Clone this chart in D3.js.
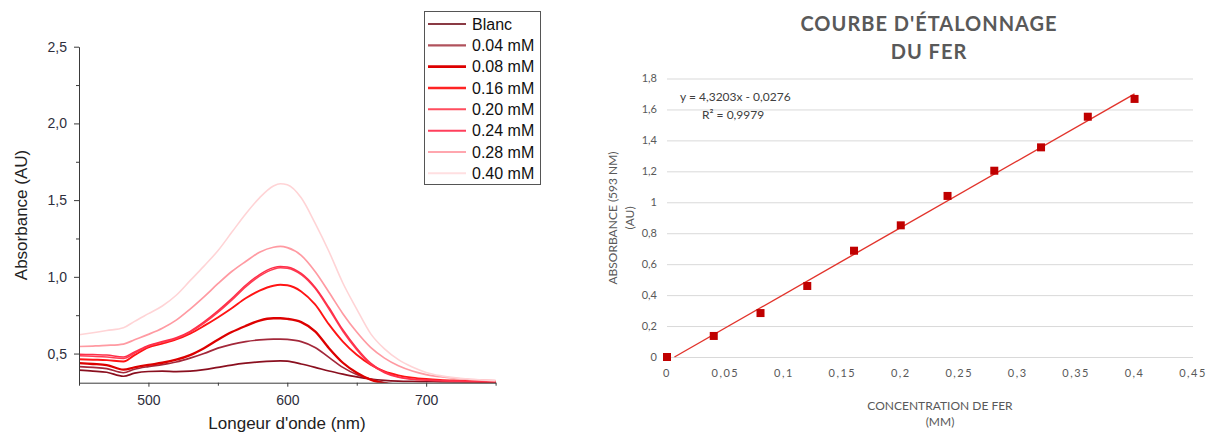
<!DOCTYPE html>
<html>
<head>
<meta charset="utf-8">
<script src="https://cdn.jsdelivr.net/npm/d3@7"></script>
<style>
  html, body { margin: 0; padding: 0; background: #ffffff; }
  svg { display: block; }
</style>
</head>
<body>
<svg id="chart" width="1208" height="434"></svg>
<script>
// ---------- LEFT CHART DATA : absorption spectra ----------
const wavelengths = [450,460,470,482,490,500,510,520,530,540,550,560,570,580,590,595,600,610,620,630,640,650,660,670,680,690,700,710,720,730,740,750];
const specBlanc = [0.392,0.386,0.378,0.352,0.372,0.383,0.385,0.382,0.385,0.395,0.41,0.425,0.437,0.446,0.451,0.452,0.45,0.432,0.41,0.386,0.366,0.348,0.334,0.325,0.32,0.318,0.317,0.316,0.315,0.315,0.314,0.314];
const spec004  = [0.415,0.41,0.402,0.375,0.398,0.415,0.428,0.445,0.47,0.5,0.535,0.56,0.578,0.589,0.594,0.594,0.592,0.578,0.54,0.475,0.41,0.363,0.333,0.31,0.3,0.298,0.3,0.303,0.305,0.306,0.307,0.308];
const spec008  = [0.437,0.432,0.425,0.395,0.41,0.426,0.44,0.46,0.49,0.535,0.59,0.64,0.68,0.715,0.73,0.73,0.726,0.705,0.645,0.535,0.44,0.375,0.33,0.305,0.295,0.293,0.295,0.298,0.3,0.302,0.303,0.304];
const spec016  = [0.463,0.46,0.457,0.448,0.49,0.54,0.565,0.592,0.63,0.68,0.735,0.795,0.86,0.91,0.942,0.948,0.945,0.905,0.82,0.69,0.578,0.492,0.428,0.383,0.358,0.343,0.334,0.328,0.324,0.321,0.319,0.318];
const spec020  = [0.485,0.482,0.478,0.468,0.502,0.548,0.573,0.598,0.638,0.698,0.768,0.848,0.935,1.005,1.05,1.06,1.056,1.015,0.925,0.79,0.645,0.525,0.43,0.375,0.345,0.332,0.326,0.322,0.32,0.318,0.317,0.316];
const spec024  = [0.496,0.493,0.49,0.478,0.51,0.552,0.578,0.603,0.645,0.706,0.778,0.858,0.945,1.015,1.06,1.068,1.064,1.022,0.932,0.8,0.655,0.535,0.438,0.38,0.348,0.334,0.328,0.324,0.321,0.319,0.318,0.317];
const spec028  = [0.546,0.549,0.553,0.562,0.59,0.625,0.665,0.718,0.79,0.87,0.955,1.035,1.1,1.16,1.193,1.198,1.19,1.14,1.035,0.9,0.76,0.64,0.54,0.47,0.42,0.386,0.363,0.349,0.339,0.332,0.327,0.323];
const spec040  = [0.622,0.636,0.65,0.668,0.71,0.76,0.81,0.88,0.975,1.07,1.17,1.29,1.41,1.515,1.592,1.607,1.6,1.515,1.35,1.165,0.96,0.79,0.63,0.53,0.46,0.412,0.377,0.356,0.343,0.334,0.328,0.323];
const specLabels = ["Blanc","0.04 mM","0.08 mM","0.16 mM","0.20 mM","0.24 mM","0.28 mM","0.40 mM"];
const leftYTickValues = [0.5,1.0,1.5,2.0,2.5];
const leftYTickLabels = ["0,5","1,0","1,5","2,0","2,5"];
const leftYMinorTicks = [0.75,1.25,1.75,2.25];
const leftXTickValues = [500,600,700];
const leftXTickLabels = ["500","600","700"];
const leftXMinorTicks = [450,550,650,750];

// ---------- RIGHT CHART DATA : calibration curve ----------
const concentrations = [0,0.04,0.08,0.12,0.16,0.20,0.24,0.28,0.32,0.36,0.40];
const absorbances    = [0,0.136,0.284,0.459,0.687,0.851,1.041,1.204,1.355,1.553,1.668];
const fitSlope = 4.3203;
const fitIntercept = -0.0276;
const fitR2Label = "R² = 0,9979";
const fitEqLabel = "y = 4,3203x - 0,0276";
const rightYTickValues = [0,0.2,0.4,0.6,0.8,1.0,1.2,1.4,1.6,1.8];
const rightYTickLabels = ["0","0,2","0,4","0,6","0,8","1","1,2","1,4","1,6","1,8"];
const rightXTickValues = [0,0.05,0.1,0.15,0.2,0.25,0.3,0.35,0.4,0.45];
const rightXTickLabels = ["0","0,05","0,1","0,15","0,2","0,25","0,3","0,35","0,4","0,45"];

// ---------- styles ----------
const seriesData = [specBlanc, spec004, spec008, spec016, spec020, spec024, spec028, spec040];
const seriesColors = ["#8a0f1f","#a3283a","#dd0000","#ff1414","#ff3d52","#ff2f4a","#ff9aa2","#ffd4d6"];
const seriesWidths = [1.7, 1.7, 2.3, 1.9, 1.5, 1.5, 1.7, 1.6];
const legendColors = ["#8a3a44","#b0525c","#dd0000","#ff2424","#ff4d5e","#ff3f5c","#ffa6ae","#ffdfe1"];

const svg = d3.select("#chart");
const leftFont = "'Liberation Sans', Arial, sans-serif";
const rightFont = "Lato, 'Open Sans', sans-serif";

// ================= LEFT CHART =================
const xL = d3.scaleLinear().domain([450, 750]).range([79, 495.6]);
const yL = d3.scaleLinear().domain([0.31, 2.5]).range([382.7, 46.7]);

svg.append("clipPath").attr("id", "clipL")
  .append("rect").attr("x", 79).attr("y", 40).attr("width", 417).attr("height", 342.7);

const lineL = d3.line().x((d, i) => xL(wavelengths[i])).y(d => yL(d)).curve(d3.curveMonotoneX);
const gLines = svg.append("g").attr("clip-path", "url(#clipL)");
seriesData.forEach((s, k) => {
  gLines.append("path").datum(s)
    .attr("d", lineL)
    .attr("fill", "none")
    .attr("stroke", seriesColors[k])
    .attr("stroke-width", seriesWidths[k])
    .attr("stroke-linejoin", "round");
});

const axisColor = "#3a3a3a";
const tickTextColor = "#2e2e3c";
// y axis
const gYL = svg.append("g").attr("transform", "translate(79,0)")
  .call(d3.axisLeft(yL).tickValues(leftYTickValues).tickSize(5).tickSizeOuter(0)
        .tickFormat((d, i) => leftYTickLabels[i]));
svg.append("g").attr("transform", "translate(79,0)")
  .call(d3.axisLeft(yL).tickValues(leftYMinorTicks).tickSize(3).tickSizeOuter(0).tickFormat(""))
  .select(".domain").remove();
// x axis
const gXL = svg.append("g").attr("transform", "translate(0,382.7)")
  .call(d3.axisBottom(xL).tickValues(leftXTickValues).tickSize(4).tickSizeOuter(0)
        .tickFormat((d, i) => leftXTickLabels[i]));
svg.append("g").attr("transform", "translate(0,382.7)")
  .call(d3.axisBottom(xL).tickValues(leftXMinorTicks).tickSize(3).tickSizeOuter(0).tickFormat(""))
  .select(".domain").remove();

svg.selectAll(".domain").attr("stroke", axisColor);
[gYL, gXL].forEach(g => {
  g.selectAll("text").attr("font-family", leftFont).attr("font-size", 14).attr("fill", tickTextColor);
});
svg.selectAll(".tick line").attr("stroke", axisColor);
gYL.selectAll("text").attr("x", -12);
gXL.selectAll("text").attr("y", 12);

svg.append("text").attr("x", 287).attr("y", 429).attr("text-anchor", "middle")
  .attr("font-family", leftFont).attr("font-size", 17).attr("fill", "#222")
  .text("Longeur d'onde (nm)");
svg.append("text").attr("transform", "translate(27,215) rotate(-90)").attr("text-anchor", "middle")
  .attr("font-family", leftFont).attr("font-size", 17).attr("fill", "#222")
  .text("Absorbance (AU)");

// legend
const leg = svg.append("g");
leg.append("rect").attr("x", 424.5).attr("y", 11.5).attr("width", 116).attr("height", 173)
  .attr("fill", "#fff").attr("stroke", "#555").attr("stroke-width", 1);
specLabels.forEach((lab, k) => {
  const yy = 24 + k * 21.33;
  leg.append("line").attr("x1", 428).attr("x2", 466).attr("y1", yy).attr("y2", yy)
    .attr("stroke", legendColors[k]).attr("stroke-width", seriesWidths[k] + 0.5);
  leg.append("text").attr("x", 472).attr("y", yy).attr("dy", "0.36em")
    .attr("font-family", leftFont).attr("font-size", 16).attr("fill", "#111").text(lab);
});

// ================= RIGHT CHART =================
const xR = d3.scaleLinear().domain([0, 0.45]).range([667, 1193]);
const yR = d3.scaleLinear().domain([0, 1.8]).range([357, 78.5]);
const gridColor = "#d9d9d9";
const rTextColor = "#595959";

svg.append("g").selectAll("line").data(rightYTickValues).join("line")
  .attr("x1", xR(0)).attr("x2", xR(0.45))
  .attr("y1", d => yR(d) + 0.5).attr("y2", d => yR(d) + 0.5)
  .attr("stroke", gridColor).attr("stroke-width", 1);

svg.append("g").selectAll("text").data(rightYTickValues).join("text")
  .attr("x", 657).attr("y", d => yR(d)).attr("dy", "0.35em").attr("text-anchor", "end")
  .attr("font-family", rightFont).attr("font-size", 11).attr("fill", rTextColor)
  .text((d, i) => rightYTickLabels[i]);

svg.append("g").selectAll("text").data(rightXTickValues).join("text")
  .attr("x", d => xR(d)).attr("y", 377).attr("text-anchor", "middle")
  .attr("font-family", rightFont).attr("font-size", 11).attr("fill", rTextColor)
  .attr("letter-spacing", 1.5)
  .text((d, i) => rightXTickLabels[i]);

// trendline
const xStart = -fitIntercept / fitSlope;
const trend = [xStart, concentrations[concentrations.length - 1]];
svg.append("path").datum(trend)
  .attr("d", d3.line().x(d => xR(d)).y(d => yR(fitSlope * d + fitIntercept)))
  .attr("stroke", "#e2342c").attr("stroke-width", 1.4).attr("fill", "none");

// markers
svg.append("g").selectAll("rect").data(concentrations).join("rect")
  .attr("x", d => xR(d) - 4).attr("y", (d, i) => yR(absorbances[i]) - 4)
  .attr("width", 8).attr("height", 8).attr("fill", "#c00000");

// equation
svg.append("text").attr("x", 680).attr("y", 101)
  .attr("font-family", rightFont).attr("font-size", 12).attr("fill", "#404040").text(fitEqLabel);
svg.append("text").attr("x", 702).attr("y", 119)
  .attr("font-family", rightFont).attr("font-size", 12).attr("fill", "#404040").text(fitR2Label);

// title
svg.append("text").attr("x", 929).attr("y", 31).attr("text-anchor", "middle")
  .attr("font-family", rightFont).attr("font-weight", "bold").attr("font-size", 20)
  .attr("letter-spacing", 1).attr("fill", rTextColor).text("COURBE D'ÉTALONNAGE");
svg.append("text").attr("x", 929).attr("y", 59).attr("text-anchor", "middle")
  .attr("font-family", rightFont).attr("font-weight", "bold").attr("font-size", 20)
  .attr("letter-spacing", 1).attr("fill", rTextColor).text("DU FER");

// axis titles
svg.append("text").attr("x", 940).attr("y", 410).attr("text-anchor", "middle")
  .attr("font-family", rightFont).attr("font-size", 12).attr("fill", rTextColor)
  .text("CONCENTRATION DE FER");
svg.append("text").attr("x", 940).attr("y", 426).attr("text-anchor", "middle")
  .attr("font-family", rightFont).attr("font-size", 12).attr("fill", rTextColor)
  .text("(MM)");
svg.append("text").attr("transform", "translate(617,218) rotate(-90)").attr("text-anchor", "middle")
  .attr("font-family", rightFont).attr("font-size", 12).attr("fill", rTextColor)
  .text("ABSORBANCE (593 NM)");
svg.append("text").attr("transform", "translate(634,218) rotate(-90)").attr("text-anchor", "middle")
  .attr("font-family", rightFont).attr("font-size", 12).attr("fill", rTextColor)
  .text("(AU)");
</script>
</body>
</html>
